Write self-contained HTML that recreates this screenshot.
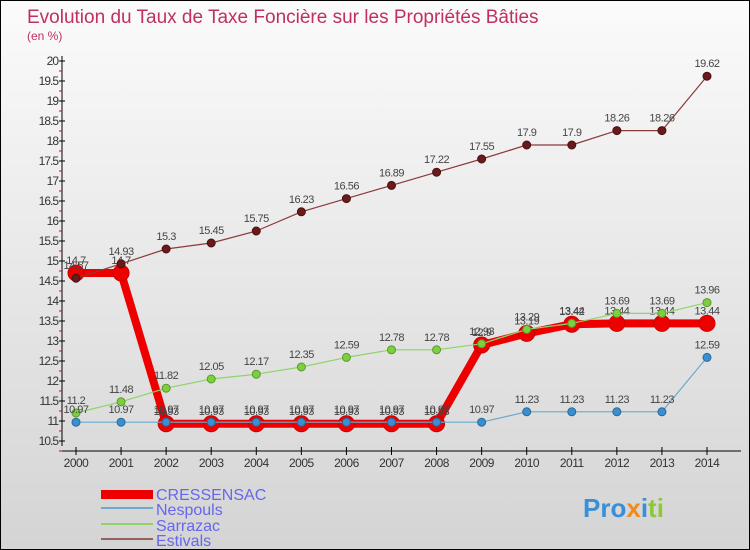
<!DOCTYPE html>
<html><head><meta charset="utf-8"><style>
body{margin:0}
#c{width:748px;height:548px;border:1px solid #000;background:linear-gradient(#fbfbfb,#d4d4d4);position:relative;font-family:"Liberation Sans",sans-serif;overflow:hidden}
</style></head><body>
<div id="c">
<svg id="s" width="748" height="548" xmlns="http://www.w3.org/2000/svg">
<text x="26" y="22" font-size="19" fill="#c0305f">Evolution du Taux de Taxe Foncière sur les Propriétés Bâties</text>
<text x="26" y="39" font-size="12" fill="#c0305f">(en %)</text>
<g id="axes"></g><g id="series"></g>
<g>
<rect x="100" y="489" width="52" height="9" fill="#e00"/>
<text x="155" y="499" font-size="16" fill="#6666ee">CRESSENSAC</text>
<line x1="100" y1="507" x2="152" y2="507" stroke="#6fa8cc" stroke-width="2"/>
<text x="155" y="514" font-size="16" fill="#6666ee">Nespouls</text>
<line x1="100" y1="523" x2="152" y2="523" stroke="#8fd468" stroke-width="2"/>
<text x="155" y="530" font-size="16" fill="#6666ee">Sarrazac</text>
<line x1="100" y1="538" x2="152" y2="538" stroke="#946060" stroke-width="2"/>
<text x="155" y="545" font-size="16" fill="#6666ee">Estivals</text>
</g>
<text x="582" y="516" font-size="26" font-weight="bold"><tspan fill="#3a8fd8">Pro</tspan><tspan fill="#f08a1a">x</tspan><tspan fill="#3a8fd8">i</tspan><tspan fill="#8cc83a">ti</tspan></text>
</svg></div>
<script>
const years=[2000,2001,2002,2003,2004,2005,2006,2007,2008,2009,2010,2011,2012,2013,2014];
const yTicks=[10.5,11,11.5,12,12.5,13,13.5,14,14.5,15,15.5,16,16.5,17,17.5,18,18.5,19,19.5,20];
const cressensac=[14.7,14.7,10.93,10.93,10.93,10.93,10.93,10.93,10.93,12.9,13.19,13.42,13.44,13.44,13.44];
const nespouls=[10.97,10.97,10.97,10.97,10.97,10.97,10.97,10.97,10.97,10.97,11.23,11.23,11.23,11.23,12.59];
const sarrazac=[11.2,11.48,11.82,12.05,12.17,12.35,12.59,12.78,12.78,12.93,13.29,13.44,13.69,13.69,13.96];
const estivals=[14.57,14.93,15.3,15.45,15.75,16.23,16.56,16.89,17.22,17.55,17.9,17.9,18.26,18.26,19.62];
const NS="http://www.w3.org/2000/svg";
const X=i=>75+i*(706-75)/14, Y=v=>440-(v-10.5)*40;
function mk(t,a,p){const e=document.createElementNS(NS,t);for(const k in a)e.setAttribute(k,a[k]);p.appendChild(e);return e;}
const ax=document.getElementById('axes'),sg=document.getElementById('series');
const yl=mk('line',{x1:61,y1:55,x2:61,y2:445,stroke:'#000'},ax);


const xl=mk('line',{x1:61,y1:450,x2:740,y2:450,stroke:'#000'},ax);


yTicks.forEach(v=>{mk('line',{x1:58,y1:Y(v),x2:64,y2:Y(v),stroke:'#000'},ax);
 mk('line',{x1:58,y1:Y(v)+10,x2:61,y2:Y(v)+10,stroke:'#e00'},ax);
 const t=mk('text',{x:57,y:Y(v)+4,'font-size':12,fill:'#333','text-anchor':'end','letter-spacing':'-1'},ax);t.textContent=v;
 
 });
years.forEach((y,i)=>{mk('line',{x1:X(i),y1:446,x2:X(i),y2:454,stroke:'#000'},ax);
 const t=mk('text',{x:X(i),y:466,'font-size':12,fill:'#333','text-anchor':'middle','letter-spacing':'-0.5'},ax);t.textContent=y;
 
 });
function series(d,name,col,dark,w,r,rStroke){
 const g=mk('g',{},sg);
 
 
 mk('polyline',{points:d.map((v,i)=>X(i)+','+Y(v)).join(' '),fill:'none',stroke:col,'stroke-width':w,'stroke-linejoin':'round'},g);
 d.forEach((v,i)=>{const c=mk('circle',{cx:X(i),cy:Y(v),r:r,fill:dark,stroke:rStroke,'stroke-width':1},g);
  
  
  const t=mk('text',{x:X(i),y:Y(v)-9,'font-size':11,fill:'#444','text-anchor':'middle','letter-spacing':'-0.5'},g);t.textContent=v;
  
  });
}
series(cressensac,'cressensac','#ee0000','#ee0000',8,8,'#c00');
series(estivals,'estivals','#8b3a3a','#6a1a1a',1.2,4,'#4a1010');
series(sarrazac,'sarrazac','#8fd468','#7cd040',1.2,4,'#5a9a2a');
series(nespouls,'nespouls','#6fa8cc','#3a8fd0',1.2,4,'#2a6a9a');
</script>
</body></html>
